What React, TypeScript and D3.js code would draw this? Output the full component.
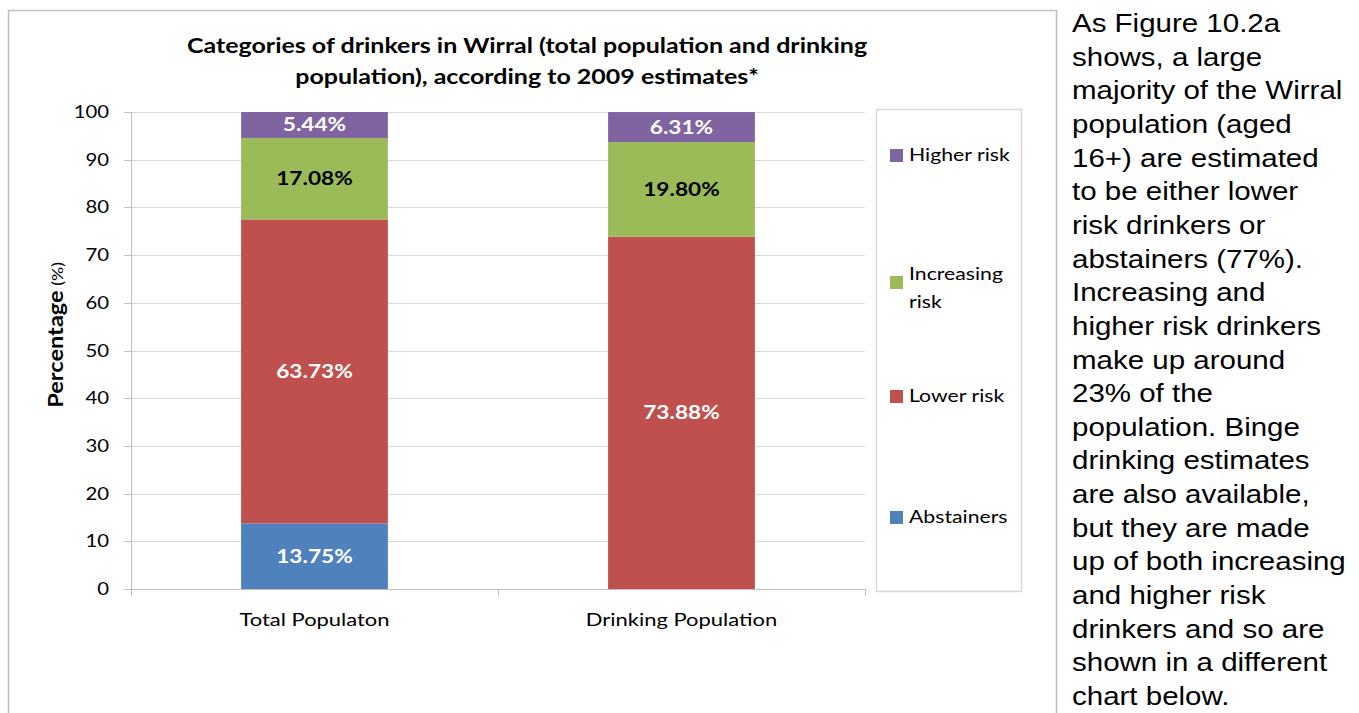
import React from "react";
import * as d3 from "d3";

const categories = ["Total Populaton", "Drinking Population"];
const seriesNames = ["Abstainers", "Lower risk", "Increasing risk", "Higher risk"];
const abstainers = [13.75, 0];
const lowerRisk = [63.73, 73.88];
const increasingRisk = [17.08, 19.8];
const higherRisk = [5.44, 6.31];
const yTicks = [0, 10, 20, 30, 40, 50, 60, 70, 80, 90, 100];
const colors = ["#4F81BD", "#C0504D", "#9BBB59", "#8064A2"];
const labelColors = ["#FFFFFF", "#FFFFFF", "#000000", "#FFFFFF"];
const titleLines = [
  "Categories of drinkers in Wirral (total population and drinking",
  "population), according to 2009 estimates*",
];
const bodyLines = [
  "As Figure 10.2a",
  "shows, a large",
  "majority of the Wirral",
  "population (aged",
  "16+) are estimated",
  "to be either lower",
  "risk drinkers or",
  "abstainers (77%).",
  "Increasing and",
  "higher risk drinkers",
  "make up around",
  "23% of the",
  "population. Binge",
  "drinking estimates",
  "are also available,",
  "but they are made",
  "up of both increasing",
  "and higher risk",
  "drinkers and so are",
  "shown in a different",
  "chart below.",
];

const FONT = "Lato, 'Open Sans', sans-serif";

function ST(props: any) {
  const { x, y, sx = 1, rotate = 0, children, ...rest } = props;
  return (
    <text transform={`translate(${x},${y}) rotate(${rotate}) scale(${sx},1)`} {...rest}>
      {children}
    </text>
  );
}

export default function App() {
  const W = 1359, H = 713;
  const plot = { left: 131, right: 865, top: 112, bottom: 589 };
  const x = d3.scaleBand().domain(categories).range([plot.left, plot.right]).paddingInner(0.6).paddingOuter(0.3);
  const y = d3.scaleLinear().domain([0, 100]).range([plot.bottom, plot.top]);
  const data = categories.map((c, i) => ({
    cat: c,
    Abstainers: abstainers[i],
    "Lower risk": lowerRisk[i],
    "Increasing risk": increasingRisk[i],
    "Higher risk": higherRisk[i],
  }));
  const stack = d3.stack<any>().keys(seriesNames)(data);
  const catBounds = [plot.left, (plot.left + plot.right) / 2, plot.right];
  const legendPos = [517, 396, 282, 155];

  return (
    <svg width={W} height={H} style={{ position: "absolute", left: 0, top: 0, display: "block", background: "#fff" }}>
      <rect x={8.5} y={10.5} width={1048} height={720} fill="#fff" stroke="#BFBFBF" strokeWidth={1.5} />
      {titleLines.map((t, i) => (
        <ST key={i} x={527} y={53 + i * 31} sx={1.19} textAnchor="middle" fontFamily={FONT} fontWeight="bold" fontSize={21} fill="#000">{t}</ST>
      ))}
      {yTicks.map((t) => (
        <g key={t}>
          <line x1={plot.left} x2={plot.right} y1={Math.round(y(t)) + 0.5} y2={Math.round(y(t)) + 0.5} stroke={t === 0 ? "#BFBFBF" : "#D9D9D9"} strokeWidth={1} />
          <line x1={plot.left - 7} x2={plot.left} y1={Math.round(y(t)) + 0.5} y2={Math.round(y(t)) + 0.5} stroke="#BFBFBF" />
          <ST x={109} y={y(t) + 6} sx={1.13} textAnchor="end" fontFamily={FONT} fontSize={18} fill="#000">{t}</ST>
        </g>
      ))}
      <line x1={plot.left + 0.5} x2={plot.left + 0.5} y1={plot.top} y2={plot.bottom} stroke="#BFBFBF" />
      {catBounds.map((b, i) => (
        <line key={i} x1={Math.round(b) + 0.5} x2={Math.round(b) + 0.5} y1={plot.bottom} y2={plot.bottom + 7} stroke="#BFBFBF" />
      ))}
      {stack.map((s, si) => (
        <g key={s.key}>
          {s.map((d, di) => {
            const h = y(d[0]) - y(d[1]);
            if (h <= 0) return null;
            const bx = x(categories[di])!;
            return (
              <g key={di}>
                <rect x={bx} y={y(d[1])} width={x.bandwidth()} height={h} fill={colors[si]} />
                <ST x={bx + x.bandwidth() / 2} y={(y(d[0]) + y(d[1])) / 2 + 6.5} sx={1.26} textAnchor="middle" fontFamily={FONT} fontWeight="bold" fontSize={18} fill={labelColors[si]}>
                  {(d[1] - d[0]).toFixed(2)}%
                </ST>
              </g>
            );
          })}
        </g>
      ))}
      {categories.map((c) => (
        <ST key={c} x={x(c)! + x.bandwidth() / 2} y={626} sx={1.22} textAnchor="middle" fontFamily={FONT} fontSize={18} fill="#000">{c}</ST>
      ))}
      <ST x={63} y={335} rotate={-90} sx={1.18} textAnchor="middle" fontFamily={FONT} fill="#000">
        <tspan fontWeight="bold" fontSize={20}>Percentage</tspan>
        <tspan fontSize={15}> (%)</tspan>
      </ST>
      <rect x={876.5} y={109.5} width={145} height={482} fill="#fff" stroke="#D9D9D9" strokeWidth={1.5} />
      {seriesNames.map((n, i) => {
        const ly = legendPos[i];
        const lines = n === "Increasing risk" ? ["Increasing", "risk"] : [n];
        return (
          <g key={n}>
            <rect x={890} y={ly - 6} width={13} height={13} fill={colors[i]} />
            {lines.map((l, li) => (
              <ST key={li} x={909} y={ly + 6 + li * 28 - (lines.length > 1 ? 8 : 0)} sx={1.18} fontFamily={FONT} fontSize={18} fill="#000">{l}</ST>
            ))}
          </g>
        );
      })}
      {bodyLines.map((l, i) => (
        <ST key={i} x={1072} y={32 + i * 33.65} sx={1.18} fontFamily="'Liberation Sans', Arial, sans-serif" fontSize={25} fill="#000">{l}</ST>
      ))}
    </svg>
  );
}
